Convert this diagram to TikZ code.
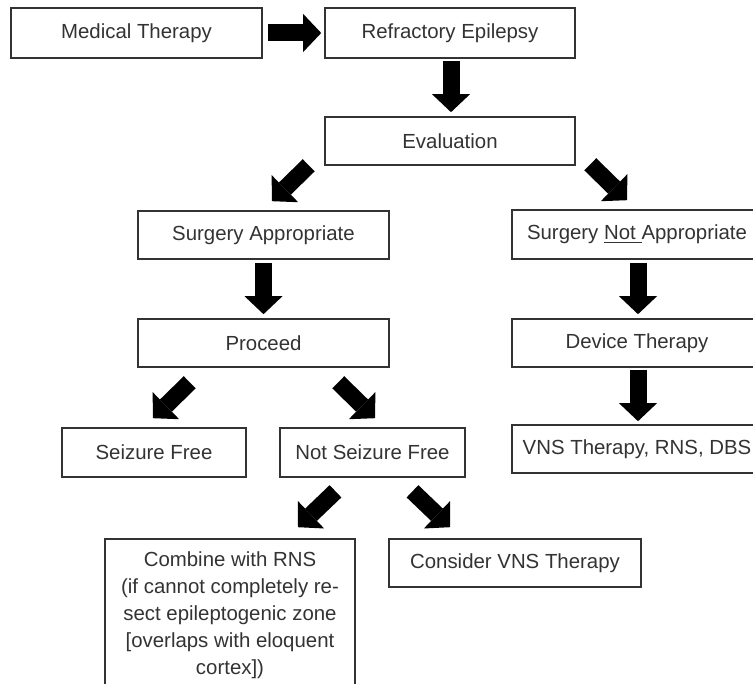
\documentclass[tikz,border=0pt]{standalone}
\usepackage{fontspec}
\setmainfont{Liberation Sans}
\usetikzlibrary{arrows.meta,calc}
\begin{document}
\begin{tikzpicture}[x=0.75pt,y=-0.75pt]
\tikzset{
  box/.style={draw=black!80, line width=1.2pt, fill=white, text=black!80,
    inner sep=0pt, align=center,
    font=\fontsize{15.3pt}{20.25pt}\selectfont},
  bw/.style={minimum width=#1*0.75pt},
  bh/.style={minimum height=#1*0.75pt},
  barrow/.style={line width=12.75pt, draw=black,
    -{Triangle[length=13.5pt,width=28.5pt,line width=0pt]}},
}
\fill[white] (0,0) rectangle (753,684);
\useasboundingbox (0,0) rectangle (753,684);

\node[box,bw=251,bh=50] (mt) at (136.5,33) {Medical Therapy};
\node[box,bw=250,bh=50] (re) at (450,33) {Refractory Epilepsy};
\node[box,bw=250,bh=48] (ev) at (450,141) {Evaluation};
\node[box,bw=251,bh=48] (sa) at (263.5,235) {Surgery Appropriate};
\node[box,bw=251,bh=48] (pr) at (263.5,343) {Proceed};
\node[box,bw=250,bh=49] (sna) at (637,234.5) {Surgery \underline{Not\ }Appropriate};
\node[box,bw=250,bh=48] (dt) at (637,343) {Device Therapy};
\node[box,bw=250,bh=48] (vns) at (637,449) {VNS Therapy, RNS, DBS};
\node[box,bw=184,bh=49] (sf) at (154,452.5) {Seizure Free};
\node[box,bw=185,bh=49] (nsf) at (372.5,452.5) {Not Seizure Free};
\node[box,bw=250,bh=153] (crns) at (230,615.5) {Combine with RNS\\(if cannot completely re-\\sect epileptogenic zone\\{[}overlaps with eloquent\\cortex])};
\node[box,bw=252,bh=48] (cvns) at (515,563) {Consider VNS Therapy};

\draw[barrow] ($(mt.east)+(5,0)$) -- ($(re.west)+(-3,0)$);
\draw[barrow] ($(re.south)+(1,2)$) -- ($(ev.north)+(1,-4)$);
\draw[barrow] ($(ev.south west)+(-15.5,-0.5)$) -- ($(sa.north)+(8.5,-9)$);
\draw[barrow] ($(ev.south east)+(14.5,-1.5)$) -- ($(sna.north)+(-10,-9)$);
\draw[barrow] ($(sa.south)+(0,3)$) -- ($(pr.north)+(0,-4)$);
\draw[barrow] ($(sna.south)+(1,3)$) -- ($(dt.north)+(1,-4)$);
\draw[barrow] ($(dt.south)+(1,2)$) -- ($(vns.north)+(1,-3)$);
\draw[barrow] ($(pr.south west)+(52.5,14.5)$) -- ($(sf.north)+(-1,-9)$);
\draw[barrow] ($(pr.south east)+(-51.5,14.5)$) -- ($(nsf.north)+(2.5,-9)$);
\draw[barrow] ($(nsf.south)+(-37,13.5)$) -- ($(crns.north)+(68,-11)$);
\draw[barrow] ($(nsf.south)+(40,13.5)$) -- ($(cvns.north)+(-65,-11)$);
\end{tikzpicture}
\end{document}
